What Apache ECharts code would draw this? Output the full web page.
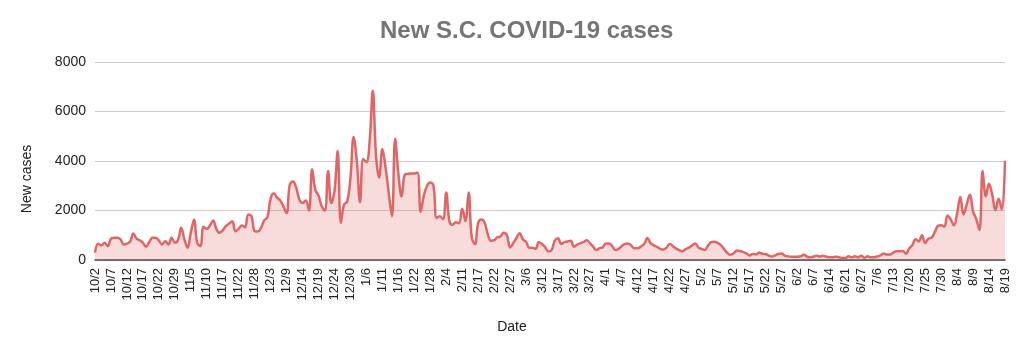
<!DOCTYPE html>
<html>
<head>
<meta charset="utf-8">
<script src="https://cdn.jsdelivr.net/npm/echarts@6/dist/echarts.min.js"></script>
<style>
html,body{margin:0;padding:0;background:#fff;}
#chart{width:1023px;height:358px;}
</style>
</head>
<body>
<div id="chart"></div>
<script>
var dates = [
"10/2","10/3","10/4","10/5","10/6","10/7","10/8","10/9","10/10","10/11",
"10/12","10/13","10/14","10/15","10/16","10/17","10/18","10/19","10/20","10/21",
"10/22","10/23","10/24","10/26","10/27","10/29","10/30","10/31","11/2","11/3",
"11/5","11/6","11/7","11/8","11/9","11/10","11/11","11/12","11/13","11/16",
"11/17","11/18","11/19","11/20","11/21","11/22","11/23","11/24","11/25","11/27",
"11/28","11/29","11/30","12/1","12/2","12/3","12/4","12/5","12/7","12/8",
"12/9","12/10","12/11","12/12","12/13","12/14","12/15","12/16","12/17","12/18",
"12/19","12/20","12/21","12/22","12/23","12/24","12/26","12/27","12/28","12/29",
"12/30","12/31","1/2","1/4","1/5","1/6","1/7","1/8","1/9","1/10",
"1/11","1/12","1/13","1/14","1/15","1/16","1/17","1/19","1/20","1/21",
"1/22","1/23","1/25","1/26","1/27","1/28","1/29","1/30","2/2","2/3",
"2/4","2/5","2/6","2/9","2/10","2/11","2/12","2/13","2/15","2/16",
"2/17","2/18","2/19","2/20","2/21","2/22","2/23","2/24","2/25","2/26",
"2/27","3/1","3/2","3/4","3/5","3/6","3/8","3/9","3/10","3/11",
"3/12","3/13","3/14","3/15","3/16","3/17","3/18","3/19","3/20","3/21",
"3/22","3/23","3/24","3/25","3/26","3/27","3/28","3/29","3/30","3/31",
"4/1","4/2","4/3","4/5","4/6","4/7","4/8","4/9","4/10","4/11",
"4/12","4/13","4/14","4/15","4/16","4/17","4/18","4/19","4/20","4/21",
"4/22","4/23","4/24","4/25","4/26","4/27","4/28","4/29","4/30","5/1",
"5/2","5/3","5/4","5/5","5/6","5/7","5/8","5/9","5/10","5/11",
"5/12","5/13","5/14","5/15","5/16","5/17","5/18","5/19","5/20","5/21",
"5/22","5/23","5/24","5/25","5/26","5/27","5/28","5/29","5/31","6/1",
"6/2","6/3","6/4","6/5","6/6","6/7","6/8","6/9","6/10","6/11",
"6/14","6/15","6/16","6/17","6/18","6/21","6/22","6/23","6/24","6/25",
"6/27","6/28","6/29","7/1","7/2","7/6","7/7","7/8","7/9","7/12",
"7/13","7/14","7/15","7/16","7/19","7/20","7/21","7/22","7/23","7/24",
"7/25","7/26","7/27","7/28","7/29","7/30","7/31","8/1","8/2","8/3",
"8/4","8/5","8/6","8/7","8/8","8/9","8/10","8/11","8/12","8/13",
"8/14","8/15","8/16","8/17","8/18","8/19"
];

var newCases = [
300,660,590,700,560,860,900,900,830,630,
660,740,1070,860,800,700,540,720,900,900,
790,630,760,630,900,700,800,1300,830,500,
1100,1630,700,560,1340,1260,1390,1600,1260,1100,
1200,1370,1470,1570,1160,1260,1390,
1320,1840,1770,1170,1150,1300,1600,1730,2480,2700,
2530,2400,2170,1900,3040,3170,2930,2440,2300,2400,
2000,3670,2840,2600,2170,2000,3600,2300,2770,4400,
1500,2240,2370,3300,4970,4000,2330,4080,3950,4770,
6840,4240,3330,4480,3730,2700,1770,4900,
3500,2570,3440,3480,3500,3500,3530,1950,2600,3000,
3130,3000,1700,1770,1650,2730,1570,1420,1530,1480,
2070,1570,2730,900,640,1500,1640,1520,1050,780,
800,920,950,1100,1000,510,680,900,1080,830,
740,500,500,450,720,650,510,350,
400,780,880,650,720,750,780,540,620,680,
720,800,680,540,400,480,510,670,670,560,
400,450,570,650,670,580,470,470,550,650,
890,680,590,530,450,420,500,650,560,460,
400,350,440,500,590,670,500,450,
400,580,720,740,690,600,450,290,215,270,
380,360,320,270,180,240,220,300,250,240,
180,140,190,240,260,180,150,135,135,135,
150,215,130,110,130,175,135,175,130,110,
110,135,110,80,80,150,110,150,
110,170,90,150,110,110,140,190,260,220,
220,300,350,350,360,250,470,600,840,750,
1000,690,860,900,1120,1380,1400,1350,1800,1640,
1400,1880,2550,1840,2240,2640,1970,1650,1210,3610,
2570,3080,2640,2010,2470,2040,4010
];

var chartTitle = "New S.C. COVID-19 cases";
var yAxisTitle = "New cases";
var xAxisTitle = "Date";
var yTicks = {min: 0, max: 8000, interval: 2000};

var font = "'Liberation Sans', Arial, sans-serif";
var chart = echarts.init(document.getElementById('chart'), null, {renderer: 'canvas'});
chart.setOption({
  animation: false,
  backgroundColor: '#ffffff',
  title: {
    text: chartTitle,
    left: 375,
    top: 14,
    textStyle: {fontFamily: font, fontSize: 24, fontWeight: 'bold', color: '#757575'}
  },
  grid: {left: 95, right: 18, top: 62, bottom: 98, containLabel: false},
  xAxis: {
    type: 'category',
    data: dates,
    boundaryGap: false,
    axisLine: {show: true, lineStyle: {color: '#444444', width: 1.5}},
    axisTick: {show: false},
    axisLabel: {interval: 4, rotate: 90, margin: 8, fontFamily: font, fontSize: 13, color: '#222222'},
    splitLine: {show: false}
  },
  yAxis: {
    type: 'value',
    min: yTicks.min, max: yTicks.max, interval: yTicks.interval,
    axisLine: {show: false},
    axisTick: {show: false},
    axisLabel: {margin: 9, fontFamily: font, fontSize: 14, color: '#222222',
      formatter: function (v) { return String(v); }},
    splitLine: {lineStyle: {color: '#cccccc', width: 1}}
  },
  graphic: [
    {type: 'text', x: 27, y: 179, rotation: Math.PI / 2,
     style: {text: yAxisTitle, fontFamily: font, fontSize: 14, fill: '#222222', align: 'center', verticalAlign: 'middle'}},
    {type: 'text', x: 512, y: 327,
     style: {text: xAxisTitle, fontFamily: font, fontSize: 14, fill: '#222222', align: 'center', verticalAlign: 'middle'}}
  ],
  series: [{
    type: 'line',
    data: newCases,
    smooth: 0.4,
    showSymbol: false,
    lineStyle: {color: '#e06666', width: 2.5},
    itemStyle: {color: '#e06666'},
    areaStyle: {color: 'rgba(224,102,102,0.33)'}
  }]
});
</script>
</body>
</html>
